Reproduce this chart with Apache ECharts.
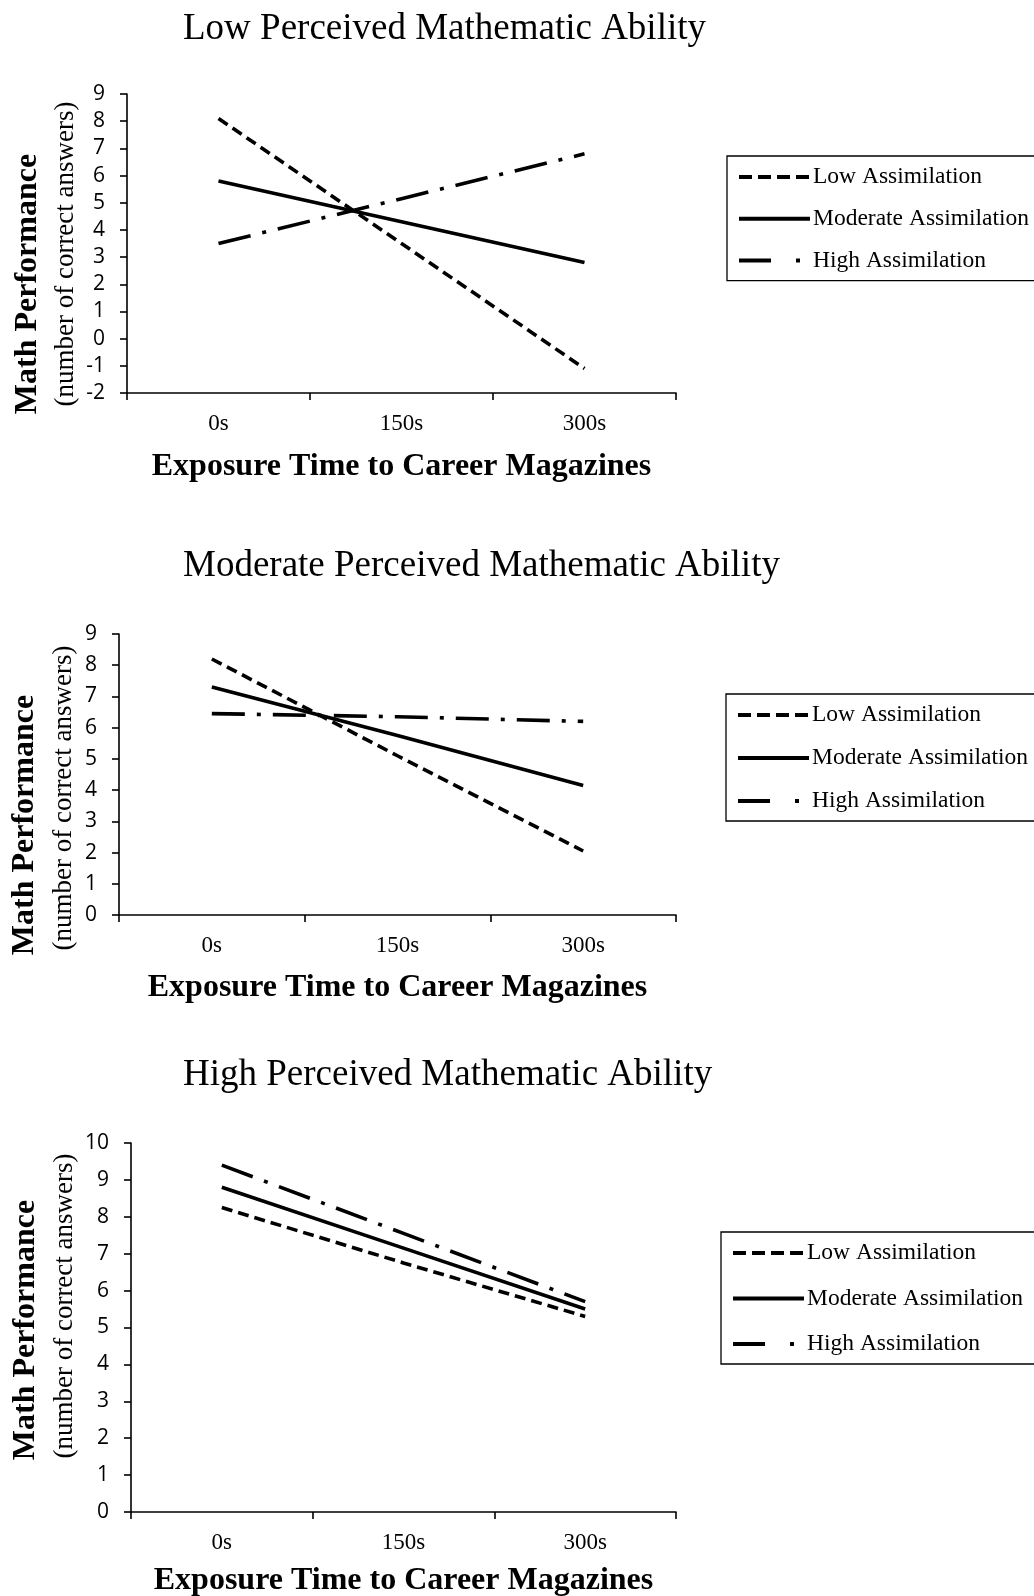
<!DOCTYPE html>
<html>
<head>
<meta charset="utf-8">
<script src="https://cdn.jsdelivr.net/npm/echarts@6/dist/echarts.min.js"></script>
<style>
html,body{margin:0;padding:0;background:#fff;}
#chart{width:1034px;height:1596px;}
</style>
</head>
<body>
<div id="chart"></div>
<script>
// ---- data ----
const categories = ['0s', '150s', '300s'];
const seriesNames = ['Low Assimilation', 'Moderate Assimilation', 'High Assimilation'];
const panelTitles = ['Low Perceived Mathematic Ability', 'Moderate Perceived Mathematic Ability', 'High Perceived Mathematic Ability'];
const xAxisTitle = 'Exposure Time to Career Magazines';
const yAxisTitle = 'Math Performance';
const yAxisSubtitle = '(number of correct answers)';

const lowAbilityLow = [8.1, 3.5, -1.1];
const lowAbilityModerate = [5.8, 4.3, 2.8];
const lowAbilityHigh = [3.5, 5.15, 6.8];

const modAbilityLow = [8.2, 5.1, 2.05];
const modAbilityModerate = [7.3, 5.75, 4.15];
const modAbilityHigh = [6.45, 6.35, 6.2];

const highAbilityLow = [8.25, 6.75, 5.3];
const highAbilityModerate = [8.8, 7.15, 5.5];
const highAbilityHigh = [9.4, 7.55, 5.7];

const yMin = [-2, 0, 0];
const yMax = [9, 9, 10];

const panelData = [
  [lowAbilityLow, lowAbilityModerate, lowAbilityHigh],
  [modAbilityLow, modAbilityModerate, modAbilityHigh],
  [highAbilityLow, highAbilityModerate, highAbilityHigh]
];

// ---- layout / style ----
const serif = '"Liberation Serif", "Times New Roman", serif';
const sans = '"Open Sans", "Noto Sans", sans-serif';
const grids = [
  {left: 127, top: 94, width: 549, height: 299, outerBoundsMode: 'none', containLabel: false},
  {left: 119, top: 634, width: 557, height: 281, outerBoundsMode: 'none', containLabel: false},
  {left: 131, top: 1143, width: 545, height: 369, outerBoundsMode: 'none', containLabel: false}
];
const titleTops = [11, 548, 1057];
const xNameGaps = [58, 57, 53];
const yName1 = [{x: 28, y: 284}, {x: 25, y: 825}, {x: 26, y: 1330}];
const yName2 = [{x: 66, y: 254}, {x: 64, y: 798}, {x: 65, y: 1306}];
const legendPos = [
  {left: 727, top: 156, gap: 17.8},
  {left: 726, top: 694, gap: 19},
  {left: 721, top: 1232, gap: 21.5}
];
const lineStyles = [
  {type: [11, 6], width: 3.6},
  {type: 'solid', width: 3.6},
  {type: [33, 12, 4, 12], width: 3.6}
];
const legendDash = [[13, 6], 'solid', [32, 25, 4, 40]];

const chart = echarts.init(document.getElementById('chart'), null, {renderer: 'canvas'});

const graphics = [];
grids.forEach((g, i) => {
  graphics.push({
    type: 'text', x: yName1[i].x, y: yName1[i].y, rotation: Math.PI / 2,
    style: {text: yAxisTitle, font: 'bold 32px ' + serif, fill: '#000', textAlign: 'center', textVerticalAlign: 'middle'}
  });
  graphics.push({
    type: 'text', x: yName2[i].x, y: yName2[i].y, rotation: Math.PI / 2,
    style: {text: yAxisSubtitle, font: '27px ' + serif, fill: '#000', textAlign: 'center', textVerticalAlign: 'middle'}
  });
});

const option = {
  backgroundColor: '#fff',
  animation: false,
  title: panelTitles.map((t, i) => ({
    text: t, left: 183, top: titleTops[i], padding: 0,
    textStyle: {fontFamily: serif, fontSize: 37, fontWeight: 'normal', color: '#000'}
  })),
  legend: legendPos.map(p => ({
    data: seriesNames.map((n, k) => ({
      name: n,
      lineStyle: {type: legendDash[k], width: 4, color: '#000', cap: 'butt'}
    })),
    orient: 'vertical',
    left: p.left, top: p.top,
    itemWidth: 71, itemHeight: 23, itemGap: p.gap,
    padding: [9, 40, 8, 10],
    borderColor: '#000', borderWidth: 1.3,
    selectedMode: false,
    itemStyle: {opacity: 0},
    lineStyle: {width: 4, color: '#000'},
    textStyle: {fontFamily: serif, fontSize: 23.5, color: '#000', padding: [0, 0, 0, -2]}
  })),
  grid: grids,
  xAxis: grids.map((g, i) => ({
    type: 'category', gridIndex: i, data: categories, boundaryGap: true,
    name: xAxisTitle, nameLocation: 'middle', nameGap: xNameGaps[i],
    nameTextStyle: {fontFamily: serif, fontSize: 32, fontWeight: 'bold', color: '#000'},
    axisLine: {show: true, onZero: false, lineStyle: {color: '#000', width: 1.6}},
    axisTick: {show: true, length: 7, lineStyle: {color: '#000', width: 1.6}},
    axisLabel: {fontFamily: serif, fontSize: 23, color: '#000', margin: 19},
    splitLine: {show: false}
  })),
  yAxis: grids.map((g, i) => ({
    type: 'value', gridIndex: i, min: yMin[i], max: yMax[i], interval: 1,
    axisLine: {show: true, lineStyle: {color: '#000', width: 1.6}},
    axisTick: {show: true, length: 7, lineStyle: {color: '#000', width: 1.6}},
    axisLabel: {fontFamily: sans, fontSize: 21, color: '#000', margin: 22},
    splitLine: {show: false}
  })),
  graphic: graphics,
  series: []
};

panelData.forEach((panel, pi) => {
  panel.forEach((vals, si) => {
    option.series.push({
      type: 'line', name: seriesNames[si],
      xAxisIndex: pi, yAxisIndex: pi,
      data: vals,
      symbol: 'none', showSymbol: false,
      color: '#000',
      lineStyle: {color: '#000', width: lineStyles[si].width, type: lineStyles[si].type, cap: 'butt'},
      z: 3 - si
    });
  });
});

chart.setOption(option);
</script>
</body>
</html>
